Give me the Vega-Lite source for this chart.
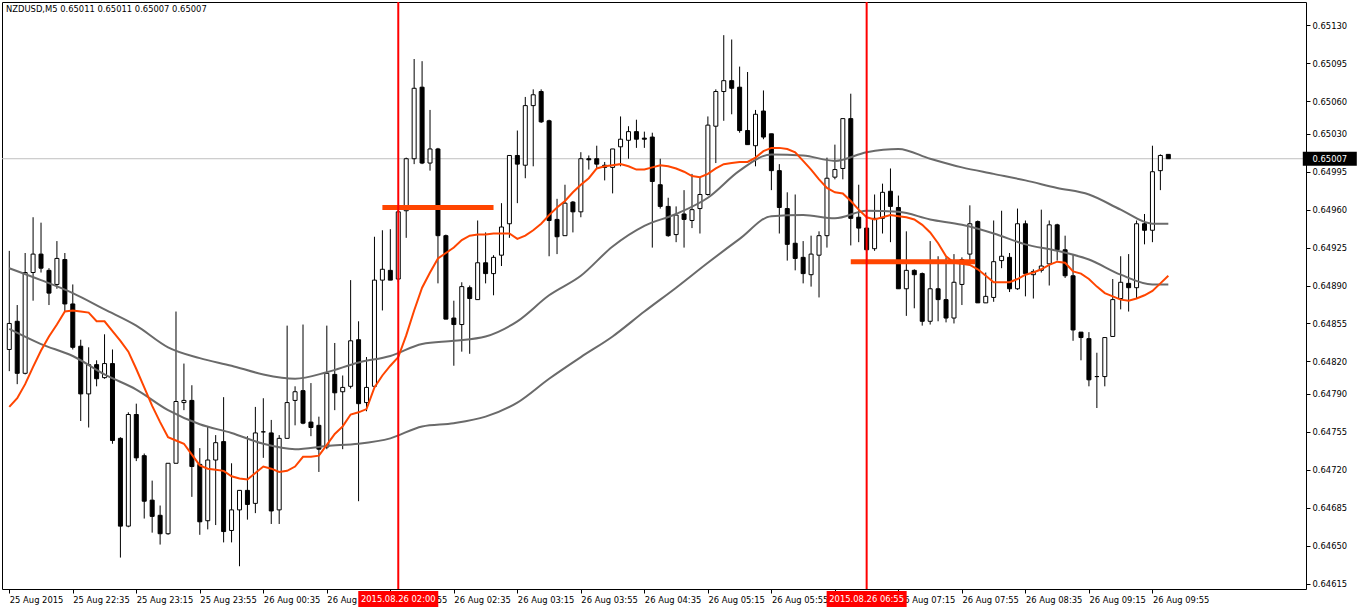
{
"$schema": "https://vega.github.io/schema/vega-lite/v6.json",
"width": 1304, "height": 587,
"padding": {"left": 1, "top": 1, "right": 0, "bottom": 0},
"autosize": {"type": "pad"},
"background": "white",
"title": {"text": "NZDUSD,M5  0.65011 0.65011 0.65007 0.65007", "anchor": "start", "frame": "group", "orient": "top", "offset": -19, "baseline": "alphabetic", "dx": 4, "font": "DejaVu Sans", "fontSize": 8.4, "fontWeight": "normal", "color": "black"},
"config": {
  "view": {"stroke": "black", "strokeWidth": 1},
  "axis": {"labelFont": "DejaVu Sans", "labelFontSize": 8.4, "labelColor": "black", "tickColor": "black", "domain": false, "grid": false, "labelOverlap": false, "labelFlush": false, "labelBound": false}
},
"datasets": {
"candles": [
{"t":"2015-08-25 21:55","o":0.64831,"h":0.64922,"l":0.64811,"c":0.64855,"ma":0.64778},
{"t":"2015-08-25 22:00","o":0.64857,"h":0.64872,"l":0.64799,"c":0.64809,"ma":0.64786},
{"t":"2015-08-25 22:05","o":0.64809,"h":0.64920,"l":0.64808,"c":0.64902,"ma":0.64799},
{"t":"2015-08-25 22:10","o":0.64902,"h":0.64953,"l":0.64876,"c":0.64919,"ma":0.64815},
{"t":"2015-08-25 22:15","o":0.64919,"h":0.64948,"l":0.64902,"c":0.64906,"ma":0.64830},
{"t":"2015-08-25 22:20","o":0.64904,"h":0.64906,"l":0.64872,"c":0.64883,"ma":0.64843},
{"t":"2015-08-25 22:25","o":0.64891,"h":0.64931,"l":0.64887,"c":0.64915,"ma":0.64854},
{"t":"2015-08-25 22:30","o":0.64914,"h":0.64920,"l":0.64866,"c":0.64873,"ma":0.64866},
{"t":"2015-08-25 22:35","o":0.64873,"h":0.64891,"l":0.64831,"c":0.64833,"ma":0.64867},
{"t":"2015-08-25 22:40","o":0.64834,"h":0.64840,"l":0.64765,"c":0.64790,"ma":0.64866},
{"t":"2015-08-25 22:45","o":0.64790,"h":0.64833,"l":0.64759,"c":0.64817,"ma":0.64865},
{"t":"2015-08-25 22:50","o":0.64817,"h":0.64821,"l":0.64797,"c":0.64804,"ma":0.64857},
{"t":"2015-08-25 22:55","o":0.64805,"h":0.64845,"l":0.64804,"c":0.64818,"ma":0.64857},
{"t":"2015-08-25 23:00","o":0.64818,"h":0.64831,"l":0.64744,"c":0.64747,"ma":0.64848},
{"t":"2015-08-25 23:05","o":0.64749,"h":0.64750,"l":0.64639,"c":0.64668,"ma":0.64839},
{"t":"2015-08-25 23:10","o":0.64668,"h":0.64773,"l":0.64667,"c":0.64771,"ma":0.64829},
{"t":"2015-08-25 23:15","o":0.64771,"h":0.64781,"l":0.64728,"c":0.64731,"ma":0.64813},
{"t":"2015-08-25 23:20","o":0.64733,"h":0.64735,"l":0.64675,"c":0.64691,"ma":0.64796},
{"t":"2015-08-25 23:25","o":0.64692,"h":0.64710,"l":0.64662,"c":0.64677,"ma":0.64779},
{"t":"2015-08-25 23:30","o":0.64678,"h":0.64687,"l":0.64651,"c":0.64661,"ma":0.64764},
{"t":"2015-08-25 23:35","o":0.64661,"h":0.64726,"l":0.64660,"c":0.64726,"ma":0.64750},
{"t":"2015-08-25 23:40","o":0.64726,"h":0.64866,"l":0.64726,"c":0.64783,"ma":0.64747},
{"t":"2015-08-25 23:45","o":0.64782,"h":0.64818,"l":0.64775,"c":0.64784,"ma":0.64744},
{"t":"2015-08-25 23:50","o":0.64784,"h":0.64798,"l":0.64695,"c":0.64723,"ma":0.64734},
{"t":"2015-08-25 23:55","o":0.64725,"h":0.64740,"l":0.64660,"c":0.64672,"ma":0.64724},
{"t":"2015-08-26 00:00","o":0.64673,"h":0.64760,"l":0.64665,"c":0.64729,"ma":0.64721},
{"t":"2015-08-26 00:05","o":0.64729,"h":0.64752,"l":0.64669,"c":0.64745,"ma":0.64720},
{"t":"2015-08-26 00:10","o":0.64746,"h":0.64787,"l":0.64653,"c":0.64663,"ma":0.64719},
{"t":"2015-08-26 00:15","o":0.64664,"h":0.64726,"l":0.64653,"c":0.64683,"ma":0.64714},
{"t":"2015-08-26 00:20","o":0.64683,"h":0.64701,"l":0.64631,"c":0.64701,"ma":0.64712},
{"t":"2015-08-26 00:25","o":0.64701,"h":0.64751,"l":0.64674,"c":0.64688,"ma":0.64711},
{"t":"2015-08-26 00:30","o":0.64689,"h":0.64778,"l":0.64680,"c":0.64754,"ma":0.64717},
{"t":"2015-08-26 00:35","o":0.64755,"h":0.64786,"l":0.64731,"c":0.64755,"ma":0.64723},
{"t":"2015-08-26 00:40","o":0.64754,"h":0.64766,"l":0.64670,"c":0.64682,"ma":0.64721},
{"t":"2015-08-26 00:45","o":0.64683,"h":0.64752,"l":0.64670,"c":0.64749,"ma":0.64718},
{"t":"2015-08-26 00:50","o":0.64749,"h":0.64853,"l":0.64749,"c":0.64782,"ma":0.64719},
{"t":"2015-08-26 00:55","o":0.64784,"h":0.64797,"l":0.64761,"c":0.64792,"ma":0.64723},
{"t":"2015-08-26 01:00","o":0.64793,"h":0.64854,"l":0.64762,"c":0.64763,"ma":0.64732},
{"t":"2015-08-26 01:05","o":0.64764,"h":0.64800,"l":0.64751,"c":0.64759,"ma":0.64732},
{"t":"2015-08-26 01:10","o":0.64761,"h":0.64769,"l":0.64718,"c":0.64739,"ma":0.64733},
{"t":"2015-08-26 01:15","o":0.64741,"h":0.64853,"l":0.64739,"c":0.64809,"ma":0.64743},
{"t":"2015-08-26 01:20","o":0.64808,"h":0.64837,"l":0.64775,"c":0.64791,"ma":0.64753},
{"t":"2015-08-26 01:25","o":0.64792,"h":0.64807,"l":0.64739,"c":0.64796,"ma":0.64760},
{"t":"2015-08-26 01:30","o":0.64797,"h":0.64895,"l":0.64795,"c":0.64839,"ma":0.64771},
{"t":"2015-08-26 01:35","o":0.64840,"h":0.64857,"l":0.64691,"c":0.64781,"ma":0.64773},
{"t":"2015-08-26 01:40","o":0.64782,"h":0.64824,"l":0.64774,"c":0.64796,"ma":0.64776},
{"t":"2015-08-26 01:45","o":0.64797,"h":0.64935,"l":0.64796,"c":0.64895,"ma":0.64796},
{"t":"2015-08-26 01:50","o":0.64895,"h":0.64941,"l":0.64867,"c":0.64905,"ma":0.64807},
{"t":"2015-08-26 01:55","o":0.64904,"h":0.64942,"l":0.64895,"c":0.64895,"ma":0.64816},
{"t":"2015-08-26 02:00","o":0.64896,"h":0.64960,"l":0.64893,"c":0.64958,"ma":0.64824},
{"t":"2015-08-26 02:05","o":0.64959,"h":0.65008,"l":0.64934,"c":0.65007,"ma":0.64844},
{"t":"2015-08-26 02:10","o":0.65007,"h":0.65099,"l":0.65002,"c":0.65072,"ma":0.64867},
{"t":"2015-08-26 02:15","o":0.65073,"h":0.65097,"l":0.65002,"c":0.65003,"ma":0.64888},
{"t":"2015-08-26 02:20","o":0.65003,"h":0.65052,"l":0.64996,"c":0.65016,"ma":0.64902},
{"t":"2015-08-26 02:25","o":0.65016,"h":0.65017,"l":0.64892,"c":0.64936,"ma":0.64915},
{"t":"2015-08-26 02:30","o":0.64936,"h":0.64937,"l":0.64859,"c":0.64859,"ma":0.64920},
{"t":"2015-08-26 02:35","o":0.64860,"h":0.64876,"l":0.64816,"c":0.64854,"ma":0.64925},
{"t":"2015-08-26 02:40","o":0.64854,"h":0.64893,"l":0.64829,"c":0.64889,"ma":0.64932},
{"t":"2015-08-26 02:45","o":0.64888,"h":0.64890,"l":0.64827,"c":0.64878,"ma":0.64936},
{"t":"2015-08-26 02:50","o":0.64877,"h":0.64950,"l":0.64877,"c":0.64911,"ma":0.64937},
{"t":"2015-08-26 02:55","o":0.64911,"h":0.64939,"l":0.64892,"c":0.64901,"ma":0.64937},
{"t":"2015-08-26 03:00","o":0.64901,"h":0.64918,"l":0.64881,"c":0.64916,"ma":0.64938},
{"t":"2015-08-26 03:05","o":0.64918,"h":0.64966,"l":0.64908,"c":0.64944,"ma":0.64938},
{"t":"2015-08-26 03:10","o":0.64947,"h":0.65010,"l":0.64934,"c":0.65010,"ma":0.64938},
{"t":"2015-08-26 03:15","o":0.65010,"h":0.65033,"l":0.64966,"c":0.65002,"ma":0.64933},
{"t":"2015-08-26 03:20","o":0.65001,"h":0.65064,"l":0.64989,"c":0.65056,"ma":0.64936},
{"t":"2015-08-26 03:25","o":0.65056,"h":0.65071,"l":0.65000,"c":0.65066,"ma":0.64941},
{"t":"2015-08-26 03:30","o":0.65069,"h":0.65071,"l":0.65040,"c":0.65041,"ma":0.64947},
{"t":"2015-08-26 03:35","o":0.65042,"h":0.65043,"l":0.64917,"c":0.64950,"ma":0.64955},
{"t":"2015-08-26 03:40","o":0.64951,"h":0.64970,"l":0.64919,"c":0.64935,"ma":0.64962},
{"t":"2015-08-26 03:45","o":0.64936,"h":0.64983,"l":0.64936,"c":0.64966,"ma":0.64968},
{"t":"2015-08-26 03:50","o":0.64967,"h":0.64968,"l":0.64939,"c":0.64958,"ma":0.64976},
{"t":"2015-08-26 03:55","o":0.64958,"h":0.65013,"l":0.64953,"c":0.65007,"ma":0.64983},
{"t":"2015-08-26 04:00","o":0.65007,"h":0.65010,"l":0.64997,"c":0.65006,"ma":0.64989},
{"t":"2015-08-26 04:05","o":0.65007,"h":0.65019,"l":0.64998,"c":0.65002,"ma":0.64998},
{"t":"2015-08-26 04:10","o":0.65001,"h":0.65004,"l":0.64987,"c":0.64999,"ma":0.65000},
{"t":"2015-08-26 04:15","o":0.64999,"h":0.65016,"l":0.64975,"c":0.65016,"ma":0.65001},
{"t":"2015-08-26 04:20","o":0.65018,"h":0.65046,"l":0.65000,"c":0.65025,"ma":0.65002},
{"t":"2015-08-26 04:25","o":0.65024,"h":0.65037,"l":0.65007,"c":0.65032,"ma":0.65000},
{"t":"2015-08-26 04:30","o":0.65032,"h":0.65043,"l":0.65017,"c":0.65025,"ma":0.64997},
{"t":"2015-08-26 04:35","o":0.65026,"h":0.65032,"l":0.65017,"c":0.65025,"ma":0.64997},
{"t":"2015-08-26 04:40","o":0.65027,"h":0.65031,"l":0.64925,"c":0.64986,"ma":0.64999},
{"t":"2015-08-26 04:45","o":0.64983,"h":0.65007,"l":0.64961,"c":0.64963,"ma":0.65001},
{"t":"2015-08-26 04:50","o":0.64963,"h":0.64971,"l":0.64935,"c":0.64936,"ma":0.65000},
{"t":"2015-08-26 04:55","o":0.64937,"h":0.64963,"l":0.64930,"c":0.64955,"ma":0.64998},
{"t":"2015-08-26 05:00","o":0.64956,"h":0.64978,"l":0.64925,"c":0.64951,"ma":0.64995},
{"t":"2015-08-26 05:05","o":0.64950,"h":0.64993,"l":0.64943,"c":0.64960,"ma":0.64991},
{"t":"2015-08-26 05:10","o":0.64961,"h":0.64990,"l":0.64938,"c":0.64974,"ma":0.64990},
{"t":"2015-08-26 05:15","o":0.64974,"h":0.65046,"l":0.64973,"c":0.65038,"ma":0.64993},
{"t":"2015-08-26 05:20","o":0.65037,"h":0.65071,"l":0.65003,"c":0.65069,"ma":0.64998},
{"t":"2015-08-26 05:25","o":0.65069,"h":0.65121,"l":0.65042,"c":0.65079,"ma":0.65002},
{"t":"2015-08-26 05:30","o":0.65079,"h":0.65117,"l":0.65048,"c":0.65072,"ma":0.65003},
{"t":"2015-08-26 05:35","o":0.65073,"h":0.65092,"l":0.65031,"c":0.65033,"ma":0.65004},
{"t":"2015-08-26 05:40","o":0.65033,"h":0.65087,"l":0.65020,"c":0.65020,"ma":0.65004},
{"t":"2015-08-26 05:45","o":0.65019,"h":0.65052,"l":0.65000,"c":0.65048,"ma":0.65008},
{"t":"2015-08-26 05:50","o":0.65051,"h":0.65070,"l":0.65025,"c":0.65027,"ma":0.65014},
{"t":"2015-08-26 05:55","o":0.65030,"h":0.65030,"l":0.64978,"c":0.64996,"ma":0.65017},
{"t":"2015-08-26 06:00","o":0.64996,"h":0.65002,"l":0.64938,"c":0.64962,"ma":0.65017},
{"t":"2015-08-26 06:05","o":0.64961,"h":0.64976,"l":0.64913,"c":0.64928,"ma":0.65016},
{"t":"2015-08-26 06:10","o":0.64929,"h":0.64974,"l":0.64904,"c":0.64915,"ma":0.65013},
{"t":"2015-08-26 06:15","o":0.64916,"h":0.64931,"l":0.64892,"c":0.64901,"ma":0.65005},
{"t":"2015-08-26 06:20","o":0.64900,"h":0.64936,"l":0.64889,"c":0.64919,"ma":0.64997},
{"t":"2015-08-26 06:25","o":0.64918,"h":0.64940,"l":0.64879,"c":0.64936,"ma":0.64988},
{"t":"2015-08-26 06:30","o":0.64936,"h":0.65008,"l":0.64925,"c":0.64989,"ma":0.64980},
{"t":"2015-08-26 06:35","o":0.64990,"h":0.65020,"l":0.64988,"c":0.64997,"ma":0.64976},
{"t":"2015-08-26 06:40","o":0.64998,"h":0.65044,"l":0.64988,"c":0.65044,"ma":0.64975},
{"t":"2015-08-26 06:45","o":0.65044,"h":0.65067,"l":0.64927,"c":0.64952,"ma":0.64968},
{"t":"2015-08-26 06:50","o":0.64953,"h":0.64983,"l":0.64930,"c":0.64943,"ma":0.64960},
{"t":"2015-08-26 06:55","o":0.64943,"h":0.64951,"l":0.64913,"c":0.64923,"ma":0.64953},
{"t":"2015-08-26 07:00","o":0.64924,"h":0.64974,"l":0.64922,"c":0.64952,"ma":0.64951},
{"t":"2015-08-26 07:05","o":0.64952,"h":0.64984,"l":0.64938,"c":0.64976,"ma":0.64953},
{"t":"2015-08-26 07:10","o":0.64977,"h":0.64998,"l":0.64930,"c":0.64963,"ma":0.64955},
{"t":"2015-08-26 07:15","o":0.64962,"h":0.64973,"l":0.64887,"c":0.64887,"ma":0.64954},
{"t":"2015-08-26 07:20","o":0.64887,"h":0.64940,"l":0.64862,"c":0.64904,"ma":0.64953},
{"t":"2015-08-26 07:25","o":0.64904,"h":0.64905,"l":0.64869,"c":0.64900,"ma":0.64951},
{"t":"2015-08-26 07:30","o":0.64901,"h":0.64902,"l":0.64853,"c":0.64857,"ma":0.64946},
{"t":"2015-08-26 07:35","o":0.64857,"h":0.64931,"l":0.64854,"c":0.64887,"ma":0.64939},
{"t":"2015-08-26 07:40","o":0.64887,"h":0.64917,"l":0.64857,"c":0.64877,"ma":0.64929},
{"t":"2015-08-26 07:45","o":0.64877,"h":0.64916,"l":0.64856,"c":0.64860,"ma":0.64917},
{"t":"2015-08-26 07:50","o":0.64860,"h":0.64919,"l":0.64855,"c":0.64893,"ma":0.64911},
{"t":"2015-08-26 07:55","o":0.64891,"h":0.64916,"l":0.64872,"c":0.64914,"ma":0.64910},
{"t":"2015-08-26 08:00","o":0.64919,"h":0.64964,"l":0.64911,"c":0.64947,"ma":0.64909},
{"t":"2015-08-26 08:05","o":0.64949,"h":0.64950,"l":0.64874,"c":0.64874,"ma":0.64905},
{"t":"2015-08-26 08:10","o":0.64874,"h":0.64902,"l":0.64874,"c":0.64880,"ma":0.64899},
{"t":"2015-08-26 08:15","o":0.64879,"h":0.64950,"l":0.64875,"c":0.64912,"ma":0.64893},
{"t":"2015-08-26 08:20","o":0.64913,"h":0.64959,"l":0.64906,"c":0.64917,"ma":0.64893},
{"t":"2015-08-26 08:25","o":0.64916,"h":0.64920,"l":0.64884,"c":0.64887,"ma":0.64893},
{"t":"2015-08-26 08:30","o":0.64887,"h":0.64961,"l":0.64886,"c":0.64947,"ma":0.64896},
{"t":"2015-08-26 08:35","o":0.64947,"h":0.64950,"l":0.64880,"c":0.64901,"ma":0.64900},
{"t":"2015-08-26 08:40","o":0.64900,"h":0.64905,"l":0.64878,"c":0.64903,"ma":0.64902},
{"t":"2015-08-26 08:45","o":0.64904,"h":0.64960,"l":0.64902,"c":0.64908,"ma":0.64905},
{"t":"2015-08-26 08:50","o":0.64910,"h":0.64950,"l":0.64890,"c":0.64946,"ma":0.64909},
{"t":"2015-08-26 08:55","o":0.64946,"h":0.64947,"l":0.64913,"c":0.64923,"ma":0.64912},
{"t":"2015-08-26 09:00","o":0.64923,"h":0.64936,"l":0.64897,"c":0.64899,"ma":0.64911},
{"t":"2015-08-26 09:05","o":0.64899,"h":0.64919,"l":0.64839,"c":0.64849,"ma":0.64903},
{"t":"2015-08-26 09:10","o":0.64847,"h":0.64847,"l":0.64821,"c":0.64842,"ma":0.64901},
{"t":"2015-08-26 09:15","o":0.64841,"h":0.64847,"l":0.64797,"c":0.64803,"ma":0.64896},
{"t":"2015-08-26 09:20","o":0.64806,"h":0.64828,"l":0.64777,"c":0.64806,"ma":0.64889},
{"t":"2015-08-26 09:25","o":0.64806,"h":0.64842,"l":0.64797,"c":0.64842,"ma":0.64883},
{"t":"2015-08-26 09:30","o":0.64843,"h":0.64896,"l":0.64843,"c":0.64877,"ma":0.64880},
{"t":"2015-08-26 09:35","o":0.64878,"h":0.64917,"l":0.64868,"c":0.64893,"ma":0.64877},
{"t":"2015-08-26 09:40","o":0.64892,"h":0.64919,"l":0.64866,"c":0.64888,"ma":0.64876},
{"t":"2015-08-26 09:45","o":0.64888,"h":0.64950,"l":0.64878,"c":0.64947,"ma":0.64878},
{"t":"2015-08-26 09:50","o":0.64947,"h":0.64956,"l":0.64928,"c":0.64941,"ma":0.64881},
{"t":"2015-08-26 09:55","o":0.64941,"h":0.65019,"l":0.64930,"c":0.64995,"ma":0.64885},
{"t":"2015-08-26 10:00","o":0.64996,"h":0.65011,"l":0.64978,"c":0.65010,"ma":0.64892},
{"t":"2015-08-26 10:05","o":0.65011,"h":0.65011,"l":0.65007,"c":0.65007,"ma":0.64899}
],
"slow": [
{"t":"2015-08-25 21:55","a":0.64906,"b":0.64850},
{"t":"2015-08-25 22:15","a":0.64895,"b":0.64836},
{"t":"2015-08-25 22:35","a":0.64883,"b":0.64825},
{"t":"2015-08-25 22:55","a":0.64868,"b":0.64808},
{"t":"2015-08-25 23:15","a":0.64853,"b":0.64794},
{"t":"2015-08-25 23:35","a":0.64833,"b":0.64775},
{"t":"2015-08-25 23:55","a":0.64823,"b":0.64762},
{"t":"2015-08-26 00:15","a":0.64816,"b":0.64754},
{"t":"2015-08-26 00:35","a":0.64808,"b":0.64744},
{"t":"2015-08-26 00:55","a":0.64804,"b":0.64739},
{"t":"2015-08-26 01:15","a":0.64810,"b":0.64742},
{"t":"2015-08-26 01:35","a":0.64819,"b":0.64744},
{"t":"2015-08-26 01:55","a":0.64825,"b":0.64749},
{"t":"2015-08-26 02:15","a":0.64836,"b":0.64760},
{"t":"2015-08-26 02:35","a":0.64839,"b":0.64763},
{"t":"2015-08-26 02:55","a":0.64843,"b":0.64769},
{"t":"2015-08-26 03:15","a":0.64857,"b":0.64782},
{"t":"2015-08-26 03:35","a":0.64881,"b":0.64804},
{"t":"2015-08-26 03:55","a":0.64899,"b":0.64824},
{"t":"2015-08-26 04:15","a":0.64926,"b":0.64843},
{"t":"2015-08-26 04:35","a":0.64945,"b":0.64866},
{"t":"2015-08-26 04:55","a":0.64956,"b":0.64888},
{"t":"2015-08-26 05:15","a":0.64971,"b":0.64911},
{"t":"2015-08-26 05:35","a":0.64996,"b":0.64933},
{"t":"2015-08-26 05:55","a":0.65011,"b":0.64954},
{"t":"2015-08-26 06:15","a":0.65010,"b":0.64955},
{"t":"2015-08-26 06:35","a":0.65005,"b":0.64952},
{"t":"2015-08-26 06:55","a":0.65013,"b":0.64959},
{"t":"2015-08-26 07:15","a":0.65016,"b":0.64958},
{"t":"2015-08-26 07:35","a":0.65007,"b":0.64951},
{"t":"2015-08-26 07:55","a":0.64999,"b":0.64946},
{"t":"2015-08-26 08:15","a":0.64993,"b":0.64938},
{"t":"2015-08-26 08:35","a":0.64987,"b":0.64928},
{"t":"2015-08-26 08:55","a":0.64980,"b":0.64922},
{"t":"2015-08-26 09:15","a":0.64974,"b":0.64914},
{"t":"2015-08-26 09:35","a":0.64960,"b":0.64900},
{"t":"2015-08-26 09:55","a":0.64947,"b":0.64891},
{"t":"2015-08-26 10:05","a":0.64947,"b":0.64891}
],
"levels": [
{"t1":"2015-08-26 01:50","t2":"2015-08-26 03:00","p":0.64962},
{"t1":"2015-08-26 06:45","t2":"2015-08-26 08:03:20","p":0.64912}
],
"tags": [
{"t":"2015-08-26 02:00","label":"2015.08.26 02:00"},
{"t":"2015-08-26 06:55","label":"2015.08.26 06:55"}
],
"last": [{"p":0.65007}]
},
"layer": [
{"data": {"name": "last"}, "mark": {"type": "rule", "color": "#C0C0C0", "strokeWidth": 1},
 "encoding": {"y": {"field": "p", "type": "quantitative", "title": null,
   "scale": {"domain": [0.64610, 0.651516], "zero": false, "nice": false},
   "axis": {"orient": "right", "values": [0.65130,0.65095,0.65060,0.65030,0.64995,0.64960,0.64925,0.64890,0.64855,0.64820,0.64790,0.64755,0.64720,0.64685,0.64650,0.64615],
    "tickCount": 40, "format": ".5f", "tickSize": 4, "labelPadding": 2, "labelBaseline": "middle", "labelOverlap": false, "labelFlush": false, "labelBound": false, "domain": false, "grid": false}}}},
{"data": {"name": "candles"}, "mark": {"type": "rule", "color": "black", "strokeWidth": 1},
 "encoding": {
  "x": {"field": "t", "type": "temporal", "title": null,
   "scale": {"domain": [{"year":2015,"month":8,"date":25,"hours":21,"minutes":53,"seconds":34},{"year":2015,"month":8,"date":26,"hours":11,"minutes":28,"seconds":34}]},
   "axis": {"orient": "bottom", "values": [
     {"year":2015,"month":8,"date":25,"hours":21,"minutes":55},
     {"year":2015,"month":8,"date":25,"hours":22,"minutes":35},
     {"year":2015,"month":8,"date":25,"hours":23,"minutes":15},
     {"year":2015,"month":8,"date":25,"hours":23,"minutes":55},
     {"year":2015,"month":8,"date":26,"hours":0,"minutes":35},
     {"year":2015,"month":8,"date":26,"hours":1,"minutes":15},
     {"year":2015,"month":8,"date":26,"hours":1,"minutes":55},
     {"year":2015,"month":8,"date":26,"hours":2,"minutes":35},
     {"year":2015,"month":8,"date":26,"hours":3,"minutes":15},
     {"year":2015,"month":8,"date":26,"hours":3,"minutes":55},
     {"year":2015,"month":8,"date":26,"hours":4,"minutes":35},
     {"year":2015,"month":8,"date":26,"hours":5,"minutes":15},
     {"year":2015,"month":8,"date":26,"hours":5,"minutes":55},
     {"year":2015,"month":8,"date":26,"hours":6,"minutes":35},
     {"year":2015,"month":8,"date":26,"hours":7,"minutes":15},
     {"year":2015,"month":8,"date":26,"hours":7,"minutes":55},
     {"year":2015,"month":8,"date":26,"hours":8,"minutes":35},
     {"year":2015,"month":8,"date":26,"hours":9,"minutes":15},
     {"year":2015,"month":8,"date":26,"hours":9,"minutes":55}],
    "tickCount": 40,
    "labelExpr": "(hours(datum.value) == 21 && minutes(datum.value) == 55) ? '25 Aug 2015' : timeFormat(datum.value, '%d %b %H:%M')",
    "labelAlign": "left", "labelBaseline": "top", "labelPadding": 2, "labelDx": 1, "tickSize": 4, "labelOverlap": false, "labelFlush": false, "labelBound": false, "domain": false, "grid": false}},
  "y": {"field": "l", "type": "quantitative", "title": null},
  "y2": {"field": "h"}
 }},
{"data": {"name": "candles"}, "mark": {"type": "bar", "width": 4, "stroke": "black", "strokeWidth": 1},
 "encoding": {
  "x": {"field": "t", "type": "temporal", "title": null},
  "y": {"field": "o", "type": "quantitative", "title": null},
  "y2": {"field": "c"},
  "fill": {"condition": {"test": "datum.c >= datum.o", "value": "white"}, "value": "black"}
 }},
{"data": {"name": "slow"}, "mark": {"type": "line", "color": "#6A6A6A", "strokeWidth": 2, "interpolate": "monotone"},
 "encoding": {"x": {"field": "t", "type": "temporal", "title": null}, "y": {"field": "a", "type": "quantitative", "title": null}}},
{"data": {"name": "slow"}, "mark": {"type": "line", "color": "#6A6A6A", "strokeWidth": 2, "interpolate": "monotone"},
 "encoding": {"x": {"field": "t", "type": "temporal", "title": null}, "y": {"field": "b", "type": "quantitative", "title": null}}},
{"data": {"name": "candles"}, "mark": {"type": "line", "color": "#FF4500", "strokeWidth": 2},
 "encoding": {"x": {"field": "t", "type": "temporal", "title": null}, "y": {"field": "ma", "type": "quantitative", "title": null}}},
{"data": {"name": "levels"}, "mark": {"type": "rule", "color": "#FF4500", "strokeWidth": 5},
 "encoding": {"x": {"field": "t1", "type": "temporal", "title": null}, "x2": {"field": "t2"}, "y": {"field": "p", "type": "quantitative", "title": null}}},
{"data": {"name": "tags"}, "mark": {"type": "rule", "color": "#FF0000", "strokeWidth": 2},
 "encoding": {"x": {"field": "t", "type": "temporal", "title": null}}},
{"data": {"name": "tags"}, "mark": {"type": "point", "shape": "M-1,-0.2H1V0.2H-1Z", "filled": true, "fill": "#FF0000", "strokeWidth": 0, "size": 6400, "opacity": 1},
 "encoding": {"x": {"field": "t", "type": "temporal", "title": null}, "y": {"datum": 0.646008, "type": "quantitative"}}},
{"data": {"name": "tags"}, "mark": {"type": "text", "color": "white", "font": "DejaVu Sans", "fontSize": 8.4, "align": "center", "baseline": "middle"},
 "encoding": {"x": {"field": "t", "type": "temporal", "title": null}, "y": {"datum": 0.646008, "type": "quantitative"}, "text": {"field": "label"}}},
{"data": {"name": "last"}, "mark": {"type": "point", "shape": "M-1,-0.26H1V0.26H-1Z", "filled": true, "fill": "black", "strokeWidth": 0, "size": 2916, "opacity": 1},
 "encoding": {"x": {"datum": {"year":2015,"month":8,"date":26,"hours":11,"minutes":46,"seconds":42}, "type": "temporal"}, "y": {"field": "p", "type": "quantitative", "title": null}}},
{"data": {"name": "last"}, "mark": {"type": "text", "color": "white", "font": "DejaVu Sans", "fontSize": 8.4, "align": "center", "baseline": "middle"},
 "encoding": {"x": {"datum": {"year":2015,"month":8,"date":26,"hours":11,"minutes":46,"seconds":42}, "type": "temporal"}, "y": {"field": "p", "type": "quantitative", "title": null}, "text": {"field": "p", "format": ".5f"}}}
]
}
